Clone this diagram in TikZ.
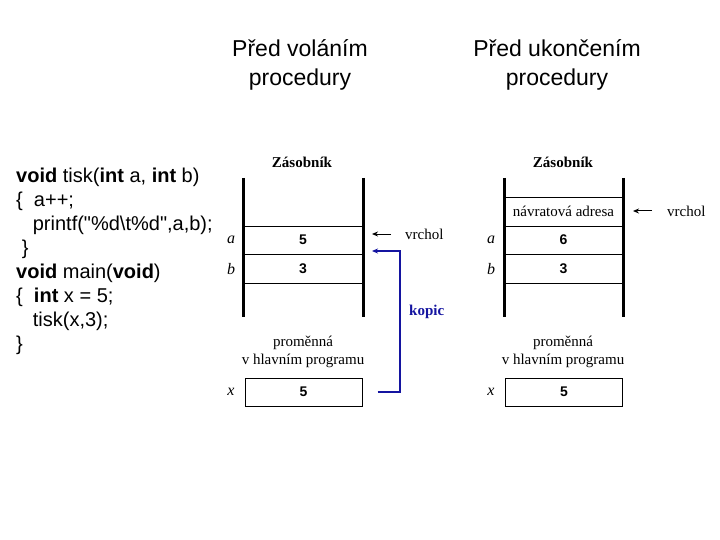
\documentclass[tikz,border=0pt]{standalone}
\usepackage{fontspec}
\setmainfont{Liberation Serif}
\setsansfont{Liberation Sans}
\newfontfamily\codefont{Liberation Sans}
\usetikzlibrary{arrows.meta}
\definecolor{kblue}{RGB}{20,20,160}
\tikzset{
  ttl/.style={font=\sffamily\fontsize{23}{29}\selectfont, align=center},
  code/.style={font=\codefont\fontsize{20}{24}\selectfont, anchor=west, inner sep=0},
  wall/.style={line width=3pt},
  cellline/.style={line width=0.8pt},
  val/.style={font=\sffamily\bfseries\fontsize{14}{16}\selectfont, inner sep=0},
  hdr/.style={font=\rmfamily\bfseries\fontsize{15}{17}\selectfont, inner sep=0},
  lbl/.style={font=\rmfamily\itshape\fontsize{16}{18}\selectfont, inner sep=0},
  txt/.style={font=\rmfamily\fontsize{15}{18}\selectfont, inner sep=0},
  ptr/.style={line width=1pt, -{Stealth[length=6pt,width=5pt]}},
  xbox/.style={draw, line width=1pt, minimum width=117pt, minimum height=28pt, inner sep=0}
}
\begin{document}
\begin{tikzpicture}[x=1pt,y=-1pt]
\useasboundingbox (0,0) rectangle (720,540);
% titles
\node[ttl] (t1) at (300,65) {Před voláním\\procedury};
\node[ttl] (t2) at (557,65) {Před ukončením\\procedury};
% code
\node[code] (c1) at (16,177) {\textbf{void} tisk(\textbf{int} a, \textbf{int} b)};
\node[code] (c2) at (16,201) {\{\ \ a++;};
\node[code] (c3) at (16,225) {\ \ \ printf("\%d\textbackslash t\%d",a,b);};
\node[code] (c4) at (16,249) {\ \}};
\node[code] (c5) at (16,273) {\textbf{void} main(\textbf{void})};
\node[code] (c6) at (16,297) {\{\ \ \textbf{int} x = 5;};
\node[code] (c7) at (16,321) {\ \ \ tisk(x,3);};
\node[code] (c8) at (16,345) {\}};
% left stack
\node[hdr] (h1) at (302,162) {Zásobník};
\draw[wall] (243,178) -- (243,317);
\draw[wall] (363,178) -- (363,317);
\draw[cellline] (243,226) -- (363,226);
\draw[cellline] (243,254) -- (363,254);
\draw[cellline] (243,283) -- (363,283);
\node[val] (la) at (303,240) {5};
\node[val] (lb) at (303,269) {3};
\node[lbl] (na) at (231,240) {a};
\node[lbl] (nb) at (231,269) {b};
\coordinate (la-r) at (372,234);
\coordinate (lb-r) at (372,251);
\node[txt, anchor=west] (v1) at (405,234) {vrchol};
\draw[ptr] (v1.west) ++(-14,0) coordinate (v1t) -- (la-r);
\node[txt] (p1) at (303,343) {proměnná};
\node[txt] (p1b) at (303,361) {v hlavním programu};
\node[xbox] (x1) at (303.5,392) {};
\node[val] at (x1) {5};
\node[lbl] (nx1) at (231,392) {x};
\draw[kblue, line width=1.5pt, -{Stealth[length=6pt,width=5pt]}] (x1.east) ++(15,0) -- (400,392) -- (400,251) -- (lb-r);
\node[font=\rmfamily\bfseries\fontsize{15}{17}\selectfont, text=kblue, anchor=west, inner sep=0] (kop) at (409,312) {kopic};
% right stack
\node[hdr] (h2) at (563,162) {Zásobník};
\draw[wall] (504,178) -- (504,317);
\draw[wall] (623,178) -- (623,317);
\draw[cellline] (504,197) -- (623,197);
\draw[cellline] (504,226) -- (623,226);
\draw[cellline] (504,254) -- (623,254);
\draw[cellline] (504,283) -- (623,283);
\node[txt] (ra0) at (563.5,211) {návratová adresa};
\node[val] (ra) at (563.5,240) {6};
\node[val] (rb) at (563.5,269) {3};
\node[lbl] (nra) at (491,240) {a};
\node[lbl] (nrb) at (491,269) {b};
\coordinate (ra0-r) at (633,211);
\node[txt, anchor=west] (v2) at (667,211) {vrchol};
\draw[ptr] (v2.west) ++(-15,0) -- (ra0-r);
\node[txt] (p2) at (563,343) {proměnná};
\node[txt] (p2b) at (563,361) {v hlavním programu};
\node[xbox] (x2) at (564,392) {};
\node[val] at (x2) {5};
\node[lbl] (nx2) at (491,392) {x};
\end{tikzpicture}
\end{document}
